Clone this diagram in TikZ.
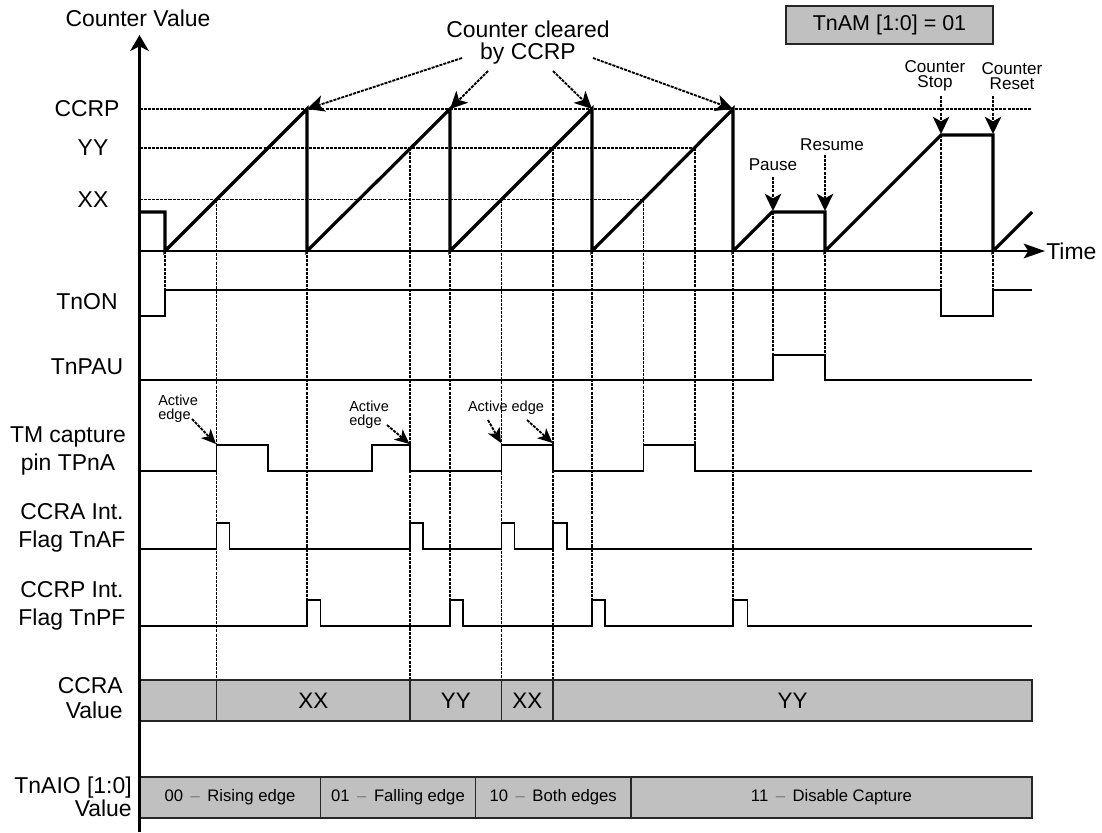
\documentclass[tikz,border=0pt]{standalone}
\usepackage{fontspec}
\setmainfont{Liberation Sans}
\usetikzlibrary{arrows.meta}
\definecolor{barfill}{RGB}{192,192,192}
\definecolor{dashgray}{RGB}{120,120,120}
\newcommand{\bdash}{\hspace{0.45em}{\color{dashgray}\textendash}\hspace{0.45em}}
\begin{document}
\begin{tikzpicture}[x=0.75pt,y=-0.75pt,
  sig/.style={line width=1.35pt, line join=miter},
  cnt/.style={line width=2.4pt, line join=miter},
  dotln/.style={line width=1.4pt, dash pattern=on 2.3pt off 0.8pt},
  axisln/.style={line width=1.7pt},
  bigtxt/.style={font=\fontsize{17.2}{21}\selectfont, inner sep=0pt, align=center},
  midtxt/.style={font=\fontsize{12.8}{11.6}\selectfont, inner sep=0pt, align=center},
  smtxt/.style={font=\fontsize{10.9}{10.5}\selectfont, inner sep=0pt, align=left},
  barseg/.style={draw=black!85, fill=barfill, line width=1pt, minimum height=30.75pt, inner sep=0pt},
  bartxt/.style={font=\fontsize{16.8}{18}\selectfont},
  barsm/.style={font=\fontsize{12.5}{14}\selectfont},
  tipbig/.style={-{Stealth[length=13pt,width=12.5pt,inset=3.5pt]}},
  tipsm/.style={-{Stealth[length=11pt,width=10pt,inset=3pt]}}
]
\useasboundingbox (0,0) rectangle (1102,832);

% ---------- dotted guide lines ----------
\draw[dotln] (139.5,109) -- (1032,109);
\draw[dotln] (139.5,148) -- (695,148);
\draw[dotln] (139.5,199.5) -- (643.5,199.5);
\foreach \x/\a/\b in {165/251/290, 216.5/199.5/680, 307/251/600, 410/148/680,
   450/251/600, 501.5/199.5/680, 553/148/680, 592/251/600, 643.5/199.5/445,
   695/148/445, 733/251/600, 773/212/355, 825/251/355, 941/135/290, 993/251/290}
  \draw[dotln] (\x,\a) -- (\x,\b);

% ---------- counter ----------
\draw[cnt] (139.5,212) -- (165,212) -- (165,251) -- (307,109) -- (307,251)
  -- (450,109) -- (450,251) -- (592,109) -- (592,251) -- (733,109) -- (733,251)
  -- (772,212) -- (825,212) -- (825,251) -- (941,135) -- (993,135) -- (993,251)
  -- (1032,212);

% ---------- signals ----------
\draw[sig] (139.5,316) -- (165,316) -- (165,290) -- (941,290) -- (941,316)
  -- (993,316) -- (993,290) -- (1032,290);
\draw[sig] (139.5,380) -- (773,380) -- (773,355) -- (825,355) -- (825,380) -- (1032,380);
\draw[sig] (139.5,471) -- (216.5,471) -- (216.5,445) -- (268,445) -- (268,471)
  -- (372,471) -- (372,445) -- (410,445) -- (410,471) -- (501.5,471)
  -- (501.5,445) -- (553,445) -- (553,471) -- (643.5,471) -- (643.5,445)
  -- (695,445) -- (695,471) -- (1032,471);
\draw[sig] (139.5,549) -- (216.5,549) -- (216.5,523) -- (229.5,523) -- (229.5,549)
  -- (410,549) -- (410,523) -- (423,523) -- (423,549) -- (501.5,549)
  -- (501.5,523) -- (514.5,523) -- (514.5,549) -- (553,549) -- (553,523)
  -- (567,523) -- (567,549) -- (1032,549);
\draw[sig] (139.5,626) -- (307,626) -- (307,600) -- (320.5,600) -- (320.5,626)
  -- (450,626) -- (450,600) -- (463,600) -- (463,626) -- (592,626)
  -- (592,600) -- (605,600) -- (605,626) -- (733,626) -- (733,600)
  -- (747.5,600) -- (747.5,626) -- (1032,626);

% ---------- bars ----------
\node[barseg, minimum width=57.75pt]  (ca0) at (178,700.5) {};
\node[barseg, minimum width=145.125pt, bartxt] (ca1) at (313.25,700.5) {XX};
\node[barseg, minimum width=68.625pt, bartxt]  (ca2) at (455.75,700.5) {YY};
\node[barseg, minimum width=38.625pt, bartxt]  (ca3) at (527.25,700.5) {XX};
\node[barseg, minimum width=359.25pt, bartxt]  (ca4) at (792.5,700.5) {YY};

\node[barseg, minimum width=135.75pt, barsm]  (io0) at (230,797.5) {00\bdash Rising edge};
\node[barseg, minimum width=116.25pt, barsm]  (io1) at (398,797.5) {01\bdash Falling edge};
\node[barseg, minimum width=116.625pt, barsm] (io2) at (553.25,797.5) {10\bdash Both edges};
\node[barseg, minimum width=300.75pt, barsm]  (io3) at (831.5,797.5) {11\bdash Disable Capture};

% ---------- axes ----------
\draw[axisln, -{Stealth[length=12pt,width=14pt,inset=3.5pt]}] (139.5,832) -- (139.5,35);
\draw[axisln, -{Stealth[length=16pt,width=11pt,inset=3.5pt]}] (139.5,251) -- (1045,251);

% ---------- left labels ----------
\node[bigtxt] (lcv) at (138,18) {Counter Value};
\node[bigtxt] (time) [anchor=west] at (1046,251) {Time};
\node[bigtxt] (lccrp) at (87,109) {CCRP};
\node[bigtxt] (lyy) at (93,148) {YY};
\node[bigtxt] (lxx) at (93,199.5) {XX};
\node[bigtxt] (lon) at (87,302) {TnON};
\node[bigtxt] (lpau) at (87,367) {TnPAU};
\node[bigtxt] (ltm) at (68,451) {TM capture\\pin TPnA};
\node[bigtxt] (laf) at (72,527.5) {CCRA Int.\\Flag TnAF};
\node[bigtxt] (lpf) at (72,606) {CCRP Int.\\Flag TnPF};
\node[bigtxt, font=\fontsize{17.2}{18.75}\selectfont, align=right, anchor=east] (lcv2) at (123,698.5) {CCRA\\Value};
\node[bigtxt, font=\fontsize{17.2}{17.25}\selectfont, align=right, anchor=east] (lio) at (132,796.5) {TnAIO [1:0]\\Value};

% ---------- mode box ----------
\node[draw=black!85, fill=barfill, line width=1pt, minimum width=155.25pt, minimum height=28.5pt,
      inner sep=0pt, font=\fontsize{16.1}{18}\selectfont] (mode) at (889.5,25) {TnAM [1:0] = 01};

% ---------- counter cleared annotations ----------
\node[bigtxt, font=\fontsize{17.2}{16.5}\selectfont] (cc) at (528,43) {Counter cleared\\by CCRP};
\coordinate (cs1) at (462,58);  \coordinate (pk1) at (307,109);
\coordinate (cs2) at (488,71);  \coordinate (pk2) at (450,109);
\coordinate (cs3) at (553,71);  \coordinate (pk3) at (592,109);
\coordinate (cs4) at (593,58);  \coordinate (pk4) at (733,109);
\draw[dotln, tipbig] (cs1) -- (pk1);
\draw[dotln, tipbig] (cs2) -- (pk2);
\draw[dotln, tipbig] (cs3) -- (pk3);
\draw[dotln, tipbig] (cs4) -- (pk4);

% ---------- pause / resume / stop / reset ----------
\node[midtxt] (pause) at (773,165) {Pause};
\node[midtxt] (resume) at (832,145) {Resume};
\node[midtxt] (cstop) at (935,76) {Counter\\Stop};
\node[midtxt] (creset) at (1012,76) {Counter\\Reset};
\coordinate (ps) at (773,177);  \coordinate (pe) at (773,211);
\coordinate (rs) at (825,155);  \coordinate (re) at (825,211);
\coordinate (ss) at (941,96);   \coordinate (se) at (941,134);
\coordinate (ts) at (993,96);   \coordinate (te) at (993,134);
\draw[dotln, tipbig] (ps) -- (pe);
\draw[dotln, tipbig] (rs) -- (re);
\draw[dotln, tipbig] (ss) -- (se);
\draw[dotln, tipbig] (ts) -- (te);

% ---------- active edge annotations ----------
\node[smtxt, anchor=west] (ae1) at (158,409) {Active\\edge};
\node[smtxt, anchor=west] (ae2) at (349,415) {Active\\edge};
\node[smtxt] (ae3) at (506,408) {Active edge};
\coordinate (a1s) at (192,419);   \coordinate (a1e) at (216,444);
\coordinate (a2s) at (387,425);   \coordinate (a2e) at (409.5,444);
\coordinate (a3s) at (488,420);   \coordinate (a3e) at (501,443);
\coordinate (a4s) at (527,420);   \coordinate (a4e) at (552.5,443);
\draw[dotln, tipsm] (a1s) -- (a1e);
\draw[dotln, tipsm] (a2s) -- (a2e);
\draw[dotln, tipsm] (a3s) -- (a3e);
\draw[dotln, tipsm] (a4s) -- (a4e);
\end{tikzpicture}
\end{document}
